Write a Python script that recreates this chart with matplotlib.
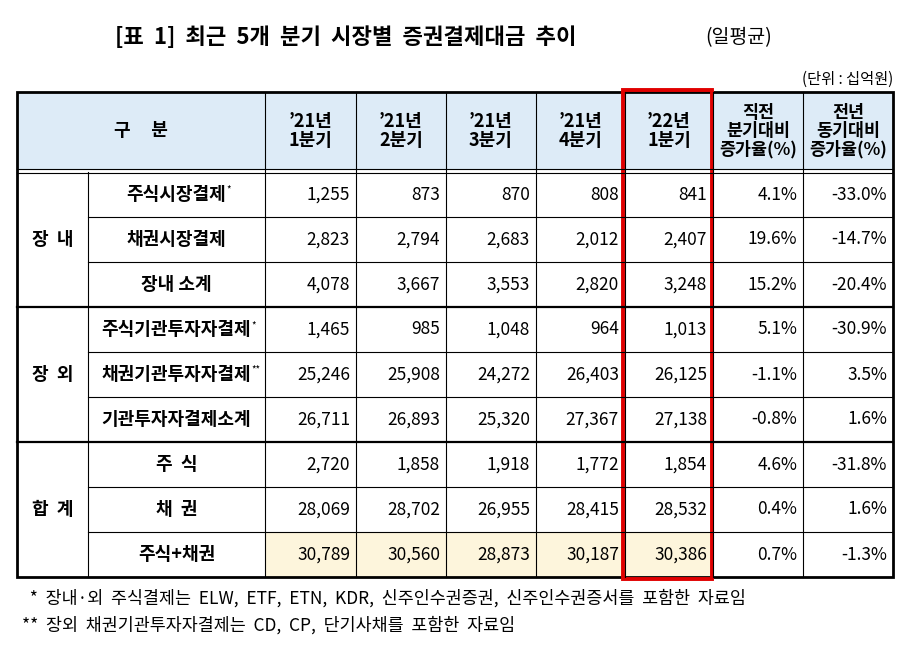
import matplotlib.pyplot as plt
from matplotlib.patches import Rectangle

plt.rcParams['font.family'] = ['Noto Sans CJK KR', 'DejaVu Sans']

title = "[표  1]  최근  5개  분기  시장별  증권결제대금  추이"
unit = "(단위 : 십억원)"
headers = ["’21년\n1분기", "’21년\n2분기", "’21년\n3분기", "’21년\n4분기", "’22년\n1분기",
           "직전\n분기대비\n증가율(%)", "전년\n동기대비\n증가율(%)"]
groups = ["장  내", "장  외", "합  계"]
labels = ["주식시장결제*", "채권시장결제", "장내 소계",
          "주식기관투자자결제*", "채권기관투자자결제**", "기관투자자결제소계",
          "주  식", "채  권", "주식+채권"]
values = [
    [1255, 873, 870, 808, 841],
    [2823, 2794, 2683, 2012, 2407],
    [4078, 3667, 3553, 2820, 3248],
    [1465, 985, 1048, 964, 1013],
    [25246, 25908, 24272, 26403, 26125],
    [26711, 26893, 25320, 27367, 27138],
    [2720, 1858, 1918, 1772, 1854],
    [28069, 28702, 26955, 28415, 28532],
    [30789, 30560, 28873, 30187, 30386],
]
qoq = [4.1, 19.6, 15.2, 5.1, -1.1, -0.8, 4.6, 0.4, 0.7]
yoy = [-33.0, -14.7, -20.4, -30.9, 3.5, 1.6, -31.8, 1.6, -1.3]
notes = ["  *  장내·외  주식결제는  ELW,  ETF,  ETN,  KDR,  신주인수권증권,  신주인수권증서를  포함한  자료임",
         "**  장외  채권기관투자자결제는  CD,  CP,  단기사채를  포함한  자료임"]

fig = plt.figure(figsize=(9.07, 6.57), dpi=100)
ax = fig.add_axes([0, 0, 1, 1])
ax.set_xlim(0, 907)
ax.set_ylim(657, 0)
ax.axis('off')

xs = [17, 88, 265, 356, 446, 536, 625, 713, 803, 893]
top, hbot, r0, rh = 92, 170, 172, 45
bottom = r0 + rh * 9

ax.text(115, 38, title, ha='left', va='center', fontsize=16, fontweight='bold')
ax.text(705, 38, "(일평균)", ha='left', va='center', fontsize=14)
ax.text(893, 79, unit, ha='right', va='center', fontsize=11)

# fills
ax.add_patch(Rectangle((xs[0], top), xs[-1] - xs[0], hbot - top, fc='#DDEBF7', ec='none'))
ax.add_patch(Rectangle((xs[2], r0 + rh * 8), xs[7] - xs[2], rh, fc='#FDF5DC', ec='none'))

# header text
ax.text((xs[0] + xs[2]) / 2, (top + hbot) / 2, "구     분", ha='center', va='center', fontsize=13, fontweight='bold')
for j, h in enumerate(headers):
    ax.text((xs[j + 2] + xs[j + 3]) / 2, (top + hbot) / 2, h, ha='center', va='center',
            fontsize=13 if j < 5 else 12.5, fontweight='bold', linespacing=1.0)

# rows
for i, lab in enumerate(labels):
    yc = r0 + rh * i + rh / 2
    base = lab.rstrip('*')
    stars = lab[len(base):]
    t = ax.text((xs[1] + xs[2]) / 2, yc, base, ha='center', va='center', fontsize=13, fontweight='bold')
    if stars:
        ax.annotate(stars, xy=(1, 1), xycoords=t, fontsize=7, va='top', ha='left')
    cells = [f"{v:,}" for v in values[i]] + [f"{qoq[i]:.1f}%", f"{yoy[i]:.1f}%"]
    for j, c in enumerate(cells):
        ax.text(xs[j + 3] - 6, yc, c, ha='right', va='center', fontsize=12.5)
for g, name in enumerate(groups):
    ax.text((xs[0] + xs[1]) / 2, r0 + rh * (3 * g + 1.5), name, ha='center', va='center',
            fontsize=13, fontweight='bold')

# grid lines
for i in range(1, 9):
    if i % 3:
        ax.plot([xs[1], xs[-1]], [r0 + rh * i] * 2, color='black', lw=0.8)
    else:
        ax.plot([xs[0], xs[-1]], [r0 + rh * i] * 2, color='black', lw=1.6)
for x in xs[1:-1]:
    y0 = r0 if x == xs[1] else top
    ax.plot([x, x], [y0, bottom], color='black', lw=0.8)
ax.plot([xs[0], xs[-1]], [hbot - 1, hbot - 1], color='black', lw=0.8)
ax.plot([xs[0], xs[-1]], [r0 + 1, r0 + 1], color='black', lw=0.8)
ax.add_patch(Rectangle((xs[0], top), xs[-1] - xs[0], bottom - top, fc='none', ec='black', lw=2))
ax.add_patch(Rectangle((623, top - 2), 89, bottom - top + 4, fc='none', ec='#E00000', lw=2.8))

ax.text(22, 598, notes[0], ha='left', va='center', fontsize=12.5)
ax.text(22, 625, notes[1], ha='left', va='center', fontsize=12.5)

fig.savefig("out.png", dpi=100)
